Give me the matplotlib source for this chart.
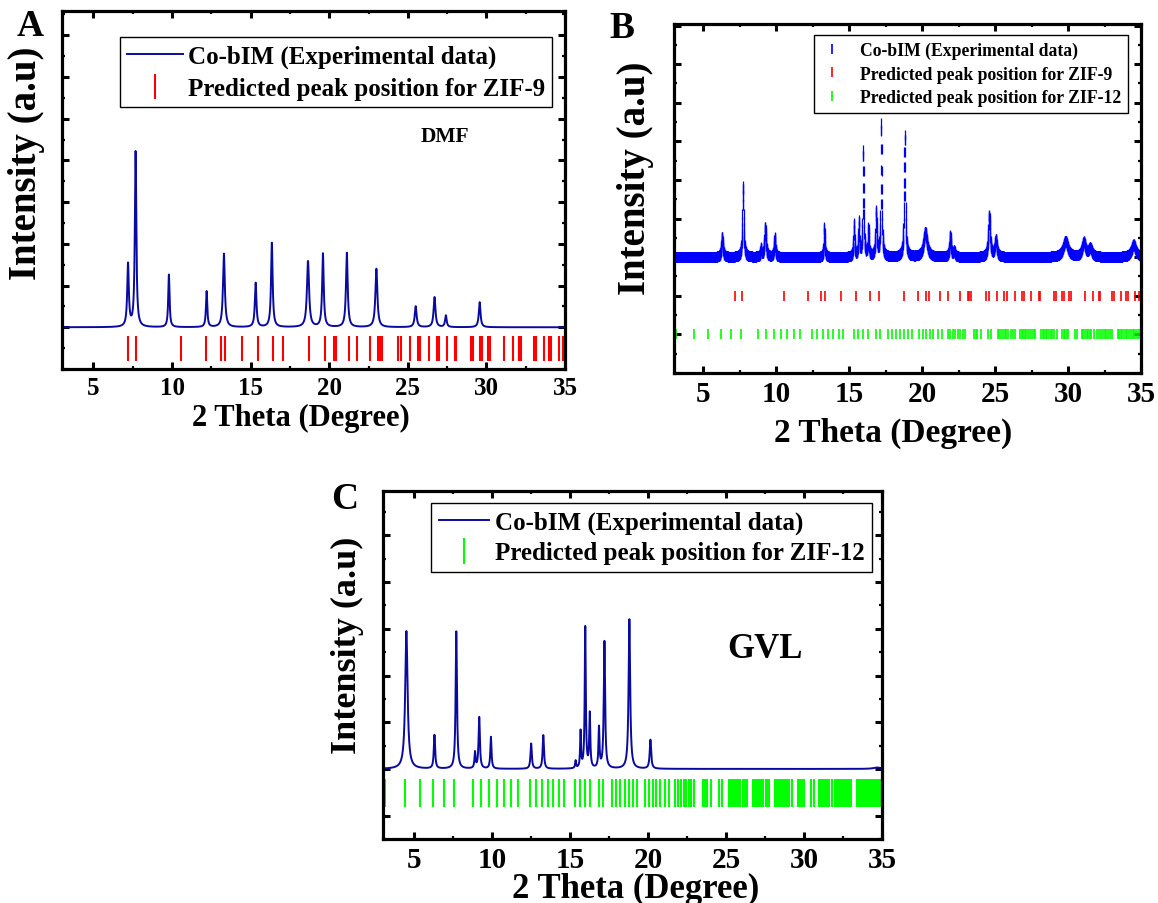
import numpy as np
import matplotlib
matplotlib.use('Agg')
import matplotlib.pyplot as plt
from matplotlib.ticker import MultipleLocator
from matplotlib.lines import Line2D

plt.rcParams['font.family'] = ['Liberation Serif', 'DejaVu Serif']
plt.rcParams['font.weight'] = 'bold'
plt.rcParams['axes.labelweight'] = 'bold'

# ---------------- data ----------------
# Panel A (DMF): experimental peaks (2theta, height above baseline, FWHM)
A_peak_pos = [7.2, 7.68, 9.8, 12.2, 13.3, 15.32, 16.35, 18.65, 19.6, 21.12, 23.0, 25.5, 26.7, 27.42, 29.57]
A_peak_height = [1.50, 4.20, 1.26, 0.86, 1.76, 1.06, 2.02, 1.58, 1.76, 1.78, 1.40, 0.50, 0.72, 0.28, 0.60]
A_peak_fwhm = [0.12, 0.11, 0.10, 0.10, 0.14, 0.12, 0.12, 0.16, 0.12, 0.13, 0.15, 0.14, 0.14, 0.12, 0.13]

# Panel B: experimental peaks
B_peak_pos = [6.3, 7.73, 8.95, 9.25, 9.9, 13.3, 15.33, 15.67, 15.97, 16.32, 16.85, 17.2, 18.81,
              20.22, 21.93, 22.2, 24.6, 25.05, 29.83, 31.08, 31.52, 34.49]
B_peak_height = [0.53, 1.83, 0.22, 0.78, 0.52, 0.77, 0.85, 0.90, 2.75, 0.72, 1.15, 3.45, 3.15,
                 0.65, 0.56, 0.15, 1.08, 0.45, 0.42, 0.38, 0.22, 0.33]
B_peak_fwhm = [0.12, 0.10, 0.08, 0.12, 0.10, 0.08, 0.08, 0.08, 0.08, 0.08, 0.10, 0.08, 0.10,
               0.28, 0.12, 0.12, 0.14, 0.16, 0.38, 0.26, 0.26, 0.34]

# Panel C (GVL): experimental peaks
C_peak_pos = [4.5, 6.3, 7.7, 8.9, 9.17, 9.92, 12.5, 13.28, 15.35, 15.67, 15.97, 16.26, 16.85,
              17.2, 18.8, 20.15, 34.7]
C_peak_height = [2.95, 0.72, 2.94, 0.34, 1.10, 0.68, 0.54, 0.72, 0.16, 0.78, 3.02, 1.16, 0.86,
                 2.72, 3.20, 0.62, 0.03]
C_peak_fwhm = [0.18, 0.10, 0.10, 0.08, 0.10, 0.09, 0.10, 0.10, 0.07, 0.07, 0.08, 0.08, 0.08,
               0.10, 0.12, 0.11, 0.6]

# Predicted reflections
ZIF9_pos = [7.18, 7.69, 10.57, 12.19, 13.1, 13.34, 14.45, 15.44, 16.41, 17.07, 18.74, 19.74,
            20.3, 20.46, 21.23, 21.76, 22.62, 23.12, 23.24, 23.34, 24.4, 24.58, 25.16, 25.62,
            25.8, 26.37, 26.85, 26.97, 27.49, 27.98, 28.09, 29.03, 29.16, 29.62, 29.7, 30.08,
            30.2, 31.15, 31.72, 32.09, 32.22, 33.04, 33.16, 33.64, 34.0, 34.13, 34.6, 34.89]
ZIF12_pos = [3.15, 4.38, 5.35, 6.2, 6.93, 7.58, 8.77, 9.3, 9.82, 10.3, 10.77, 11.2, 11.65,
             12.45, 12.78, 13.2, 13.57, 13.9, 14.28, 14.6, 15.3, 15.62, 15.94, 16.26, 16.84,
             17.1, 17.68, 17.94, 18.22, 18.5, 18.76, 19.02, 19.28, 19.78, 20.04, 20.3, 20.53,
             20.78, 21.07, 21.33, 21.75, 21.92, 22.1, 22.28, 22.45, 22.62, 22.78, 22.95, 23.53,
             23.66, 23.79, 24.04, 24.53, 24.75, 25.18, 25.3, 25.39, 25.52, 25.65, 25.76, 25.88,
             26.09, 26.22, 26.35, 26.71, 26.82, 26.93, 27.04, 27.14, 27.25, 27.36, 27.53, 27.64,
             27.74, 28.17, 28.28, 28.38, 28.49, 28.59, 28.7, 28.81, 28.92, 29.02, 29.23, 29.6,
             29.7, 29.81, 29.92, 30.03, 30.45, 30.62, 30.94, 31.05, 31.16, 31.27, 31.37, 31.48,
             31.59, 31.8, 32.0, 32.12, 32.25, 32.38, 32.5, 32.62, 32.75, 32.88, 33.0, 33.4,
             33.5, 33.6, 33.72, 33.84, 33.95, 34.06, 34.18, 34.3, 34.42, 34.54, 34.66, 34.78, 34.9]

xtick_values = [5, 10, 15, 20, 25, 30, 35]
label_exp = 'Co-bIM (Experimental data)'
label_z9 = 'Predicted peak position for ZIF-9'
label_z12 = 'Predicted peak position for ZIF-12'

# ---------------- helpers ----------------
W, H = 1158, 904


def profile(x, pos, hgt, fwhm, base):
    y = np.full_like(x, base, dtype=float)
    for c, h, w in zip(pos, hgt, fwhm):
        y += h / (1.0 + ((x - c) / (w / 2.0)) ** 2)
    return y


def box(x0, y0, x1, y1):
    return [x0 / W, 1 - y1 / H, (x1 - x0) / W, (y1 - y0) / H]


def fxy(x, y):
    return x / W, 1 - y / H


def style(ax, ylim, tick_fs):
    ax.set_xlim(3, 35)
    ax.set_ylim(*ylim)
    ax.set_xticks(xtick_values)
    ax.xaxis.set_minor_locator(MultipleLocator(2.5))
    ax.yaxis.set_major_locator(MultipleLocator(1))
    ax.yaxis.set_minor_locator(MultipleLocator(0.5))
    ax.tick_params(which='both', direction='in', top=True, right=True,
                   labelleft=False)
    ax.tick_params(which='major', length=5, width=2.2)
    ax.tick_params(which='minor', length=2.5, width=1.6)
    ax.tick_params(axis='x', labelsize=tick_fs, pad=5)
    for lab in ax.get_xticklabels():
        lab.set_fontweight('bold')
    for s in ax.spines.values():
        s.set_linewidth(2.3)


fig = plt.figure(figsize=(W / 100, H / 100), dpi=100)

navy = '#0A0AA0'
red = '#FF0000'
green = '#00FF00'
blue = '#0000FF'

# ---------------- Panel A ----------------
axA = fig.add_axes(box(62, 12, 565, 370))
xa = np.linspace(3, 35, 6401)
ya = profile(xa, A_peak_pos, A_peak_height, A_peak_fwhm, 1.0)
axA.plot(xa, ya, color=navy, lw=1.4)
axA.plot(ZIF9_pos, np.full(len(ZIF9_pos), 0.5), ls='none', marker='|',
         ms=18, mew=1.5, color=red)
style(axA, (0, 8.58), 18)
hA = [Line2D([], [], color=navy, lw=1.4),
      Line2D([], [], ls='none', marker='|', ms=18, mew=1.5, color=red)]
legA = axA.legend(hA, [label_exp, label_z9], loc='upper left',
                  bbox_to_anchor=fxy(120, 38), bbox_transform=fig.transFigure,
                  fancybox=False, edgecolor='black', framealpha=1, fontsize=18,
                  handlelength=2.2, handletextpad=0.2, borderpad=0.3,
                  labelspacing=0.35, borderaxespad=0, numpoints=1)
legA.get_frame().set_linewidth(1.0)
fig.text(*fxy(445, 137), 'DMF', fontsize=15.5, ha='center', va='center')
fig.text(*fxy(30, 26), 'A', fontsize=27, ha='center', va='center')
fig.text(*fxy(27, 163), 'Intensity (a.u)', fontsize=28, rotation=90,
         ha='center', va='center')
fig.text(*fxy(301, 418), '2 Theta (Degree)', fontsize=22, ha='center', va='center')

# ---------------- Panel B ----------------
axB = fig.add_axes(box(674, 25, 1141, 374))
xb = np.arange(3.0, 35.0001, 0.01)
yb = profile(xb, B_peak_pos, B_peak_height, B_peak_fwhm, 3.0)
axB.plot(xb, yb, ls='none', marker='|', ms=7.0, mew=0.9, color=blue)
axB.plot(ZIF9_pos, np.full(len(ZIF9_pos), 2.0), ls='none', marker='|',
         ms=7.5, mew=1.2, color=red)
axB.plot(ZIF12_pos, np.full(len(ZIF12_pos), 1.0), ls='none', marker='|',
         ms=7.5, mew=1.2, color=green)
style(axB, (0, 9.04), 21)
hB = [Line2D([], [], ls='none', marker='|', ms=7.5, mew=1.2, color=blue),
      Line2D([], [], ls='none', marker='|', ms=7.5, mew=1.2, color=red),
      Line2D([], [], ls='none', marker='|', ms=7.5, mew=1.2, color=green)]
legB = axB.legend(hB, [label_exp, label_z9, label_z12], loc='upper left',
                  bbox_to_anchor=fxy(814, 36), bbox_transform=fig.transFigure,
                  fancybox=False, edgecolor='black', framealpha=1, fontsize=12.7,
                  handlelength=1.2, handletextpad=1.0, borderpad=0.4,
                  labelspacing=0.35, borderaxespad=0, numpoints=1)
legB.get_frame().set_linewidth(1.0)
fig.text(*fxy(622, 28), 'B', fontsize=27, ha='center', va='center')
fig.text(*fxy(635, 178), 'Intensity (a.u)', fontsize=28, rotation=90,
         ha='center', va='center')
fig.text(*fxy(893, 433), '2 Theta (Degree)', fontsize=24, ha='center', va='center')

# ---------------- Panel C ----------------
axC = fig.add_axes(box(383, 492, 882, 840))
xc = np.linspace(3, 35, 6401)
yc = profile(xc, C_peak_pos, C_peak_height, C_peak_fwhm, 1.0)
axC.plot(xc, yc, color=navy, lw=1.4)
axC.plot(ZIF12_pos, np.full(len(ZIF12_pos), 0.49), ls='none', marker='|',
         ms=19.5, mew=1.5, color=green)
style(axC, (-0.5, 6.95), 21)
hC = [Line2D([], [], color=navy, lw=1.4),
      Line2D([], [], ls='none', marker='|', ms=19, mew=1.5, color=green)]
legC = axC.legend(hC, [label_exp, label_z12], loc='upper left',
                  bbox_to_anchor=fxy(431, 504), bbox_transform=fig.transFigure,
                  fancybox=False, edgecolor='black', framealpha=1, fontsize=18,
                  handlelength=2.0, handletextpad=0.25, borderpad=0.3,
                  labelspacing=0.3, borderaxespad=0, numpoints=1)
legC.get_frame().set_linewidth(1.0)
fig.text(*fxy(765, 650), 'GVL', fontsize=25, ha='center', va='center')
fig.text(*fxy(345, 500), 'C', fontsize=27, ha='center', va='center')
fig.text(*fxy(347, 645), 'Intensity (a.u)', fontsize=26, rotation=90,
         ha='center', va='center')
fig.text(*fxy(636, 889), '2 Theta (Degree)', fontsize=25, ha='center', va='center')

fig.savefig('out.png', dpi=100)
